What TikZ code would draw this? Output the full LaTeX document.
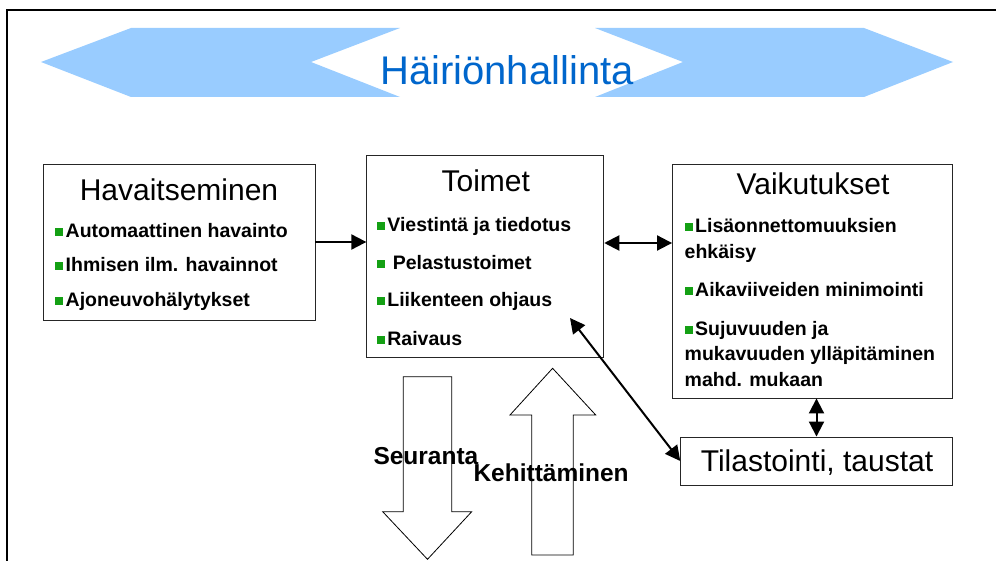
\documentclass[tikz,border=0pt]{standalone}
\usepackage{fontspec}
\setmainfont{Liberation Sans}
\usetikzlibrary{arrows.meta}
\definecolor{skyb}{RGB}{153,204,255}
\definecolor{titleblue}{RGB}{0,102,204}
\definecolor{bulletgreen}{RGB}{20,160,20}
\newcommand{\gbul}{\textcolor{bulletgreen}{\raisebox{1.5pt}{\rule{8pt}{8pt}}}\hspace{2.5pt}}
\begin{document}
\begin{tikzpicture}[x=1pt,y=-1pt,
  boxst/.style={draw=black!85, line width=0.9pt, fill=white, inner sep=0pt},
  hdr/.style={font=\fontsize{30}{36}\selectfont, anchor=base, inner sep=0pt},
  bul/.style={font=\fontsize{19.5}{25.8}\selectfont\bfseries, anchor=base west, inner sep=0pt, align=left},
  lbl/.style={font=\fontsize{24.5}{28}\selectfont\bfseries, anchor=base west, inner sep=0pt},
  conn/.style={line width=2pt, -{Triangle[length=15pt,width=15pt]}},
  dconn/.style={line width=2pt, {Triangle[length=15pt,width=15pt]}-{Triangle[length=15pt,width=15pt]}},
  blk/.style={draw=black, line width=0.8pt, fill=white}
]
\useasboundingbox (0,0) rectangle (996,561);
% frame
\draw[line width=2.5pt] (7,575) -- (7,10) -- (1005,10);
% blue hexagon arrows
\fill[skyb] (41,62) -- (131,28) -- (400,28) -- (311,62) -- (400,97) -- (131,97) -- cycle;
\fill[skyb] (595,28) -- (864,28) -- (953,62) -- (864,97) -- (595,97) -- (683,62) -- cycle;
\node[titleblue, font=\fontsize{40}{48}\selectfont, anchor=base, inner sep=0pt] (title) at (507,85) {Häiriönhallinta};

% boxes
\node[boxst, minimum width=272pt, minimum height=156pt] (hav) at (179,242) {};
\node[boxst, minimum width=237pt, minimum height=202pt] (toim) at (485.3,256) {};
\node[boxst, minimum width=280pt, minimum height=234pt] (vaik) at (812.5,281) {};
\node[boxst, minimum width=272pt, minimum height=48pt] (tila) at (816.7,461) {};

% headers
\node[hdr] (havT) at (179,201) {Havaitseminen};
\node[hdr] (toimT) at (485.8,191.7) {Toimet};
\node[hdr] (vaikT) at (813,195) {Vaikutukset};
\node[hdr] (tilaT) at (817,471.7) {Tilastointi, taustat};

% bullets Havaitseminen
\node[bul] (h1) at (55,238) {\gbul Automaattinen havainto};
\node[bul] (h2) at (55,272) {\gbul Ihmisen ilm. havainnot};
\node[bul] (h3) at (55,306.5) {\gbul Ajoneuvohälytykset};

% bullets Toimet
\node[bul] (t1) at (376.7,231.7) {\gbul Viestintä ja tiedotus};
\node[bul] (t2) at (376.7,270) {\gbul\ Pelastustoimet};
\node[bul] (t3) at (376.7,306.7) {\gbul Liikenteen ohjaus};
\node[bul] (t4) at (376.7,345) {\gbul Raivaus};

% bullets Vaikutukset (base anchor = last line)
\node[bul] (v1) at (684.5,258.5) {\gbul Lisäonnettomuuksien\\ehkäisy};
\node[bul] (v2) at (684.5,296.7) {\gbul Aikaviiveiden minimointi};
\node[bul] (v3) at (684.5,386.7) {\gbul Sujuvuuden ja\\mukavuuden ylläpitäminen\\mahd. mukaan};

% connectors
\draw[conn] (hav.east) -- (hav.east -| toim.west);
\draw[dconn] ([yshift=13pt]toim.east) -- ([yshift=13pt]toim.east -| vaik.west);
\draw[dconn] ([xshift=4pt]vaik.south) -- ([xshift=4pt]vaik.south |- tila.north);
\coordinate (liik) at (570,318);
\draw[dconn] (liik) -- (tila.west);

% block arrows
\draw[blk] (403.3,376.7) -- (451.7,376.7) -- (451.7,511.7) -- (471.7,511.7) -- (427.5,559.3) -- (382.7,511.7) -- (403.3,511.7) -- cycle;
\draw[blk] (531.7,555) -- (531.7,415) -- (510,415) -- (552.6,368.3) -- (595.7,415) -- (573.3,415) -- (573.3,555) -- cycle;
\node[lbl] (seur) at (373.3,464) {Seuranta};
\node[lbl] (kehi) at (473.3,481.7) {Kehittäminen};
\end{tikzpicture}
\end{document}
